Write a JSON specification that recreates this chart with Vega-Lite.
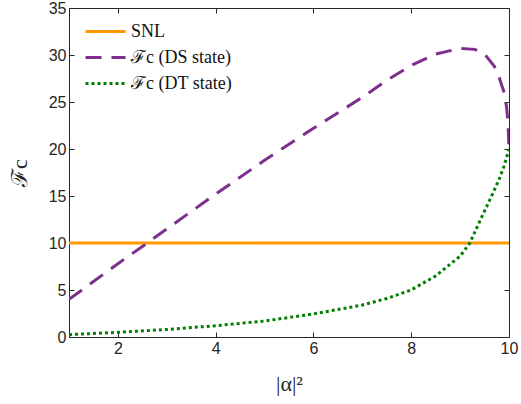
{
  "$schema": "https://vega.github.io/schema/vega-lite/v6.json",
  "width": 440,
  "height": 329,
  "autosize": {"type": "none"},
  "padding": {"left": 69, "top": 8, "right": 12, "bottom": 67},
  "background": "white",
  "config": {
    "view": {"stroke": "#262626", "strokeWidth": 1},
    "axis": {"grid": false, "domain": false, "labelFlush": false, "tickColor": "#262626", "tickSize": -5, "labelColor": "#262626", "labelFont": "Liberation Sans", "labelFontSize": 16, "titleFont": "Liberation Serif", "titleFontWeight": "normal", "titleColor": "#262626", "titleFontSize": 22}
  },
  "data": {"values": [
    {"s": "SNL", "x": 1, "y": 10},
    {"s": "SNL", "x": 10, "y": 10},
    {"s": "DS", "x": 1, "y": 4.0},
    {"s": "DS", "x": 1.5, "y": 5.9},
    {"s": "DS", "x": 2, "y": 7.8},
    {"s": "DS", "x": 2.6, "y": 10.0},
    {"s": "DS", "x": 3, "y": 11.5},
    {"s": "DS", "x": 4, "y": 15.2},
    {"s": "DS", "x": 5, "y": 18.8},
    {"s": "DS", "x": 6, "y": 22.2},
    {"s": "DS", "x": 7, "y": 25.5},
    {"s": "DS", "x": 7.5, "y": 27.3},
    {"s": "DS", "x": 8, "y": 28.9},
    {"s": "DS", "x": 8.5, "y": 30.1},
    {"s": "DS", "x": 9, "y": 30.7},
    {"s": "DS", "x": 9.3, "y": 30.6},
    {"s": "DS", "x": 9.5, "y": 30.1},
    {"s": "DS", "x": 9.7, "y": 28.8},
    {"s": "DS", "x": 9.8, "y": 27.6},
    {"s": "DS", "x": 9.9, "y": 26.0},
    {"s": "DS", "x": 9.95, "y": 24.5},
    {"s": "DS", "x": 9.98, "y": 22.8},
    {"s": "DS", "x": 10, "y": 20.0},
    {"s": "DT", "x": 1, "y": 0.25},
    {"s": "DT", "x": 2, "y": 0.5},
    {"s": "DT", "x": 3, "y": 0.8},
    {"s": "DT", "x": 4, "y": 1.2},
    {"s": "DT", "x": 5, "y": 1.7},
    {"s": "DT", "x": 6, "y": 2.45},
    {"s": "DT", "x": 7, "y": 3.4},
    {"s": "DT", "x": 7.5, "y": 4.1},
    {"s": "DT", "x": 8, "y": 5.0},
    {"s": "DT", "x": 8.5, "y": 6.5},
    {"s": "DT", "x": 9, "y": 8.6},
    {"s": "DT", "x": 9.2, "y": 10.0},
    {"s": "DT", "x": 9.4, "y": 12.3},
    {"s": "DT", "x": 9.6, "y": 14.5},
    {"s": "DT", "x": 9.8, "y": 16.8},
    {"s": "DT", "x": 9.9, "y": 18.2},
    {"s": "DT", "x": 10, "y": 20.0}
  ]},
  "resolve": {"axis": {"x": "independent", "y": "independent"}},
  "layer": [
    {
      "mark": {"type": "line", "strokeWidth": 3, "clip": true},
      "encoding": {
        "x": {"field": "x", "type": "quantitative", "scale": {"domain": [1, 10], "nice": false, "zero": false}, "axis": {"orient": "bottom", "values": [2, 4, 6, 8, 10], "title": "|α|²", "labelPadding": 8, "titleY": 36, "titleBaseline": "top"}},
        "y": {"field": "y", "type": "quantitative", "scale": {"domain": [0, 35], "nice": false}, "axis": {"orient": "left", "values": [0, 5, 10, 15, 20, 25, 30, 35], "title": "ℱc", "labelPadding": 8, "titleX": -38, "titleAngle": -90}},
        "color": {"field": "s", "type": "nominal", "scale": {"domain": ["SNL", "DS", "DT"], "range": ["#ff9a00", "#7e2f8e", "#007f00"]},
          "legend": {"orient": "none", "legendX": 25, "legendY": 12, "title": null, "symbolType": "M-2,0H2", "symbolStrokeWidth": 3, "symbolSize": 400, "labelFont": "Liberation Serif", "labelFontSize": 18, "labelColor": "#111", "rowPadding": 5, "labelOffset": 14,
            "labelExpr": "datum.value == 'SNL' ? 'SNL' : datum.value == 'DS' ? 'ℱc (DS state)' : 'ℱc (DT state)'"}},
        "strokeDash": {"field": "s", "type": "nominal", "scale": {"domain": ["SNL", "DS", "DT"], "range": [[1, 0], [16, 10], [3, 3]]},
          "legend": {"orient": "none", "legendX": 25, "legendY": 12, "title": null, "symbolType": "M-2,0H2", "symbolStrokeWidth": 3, "symbolSize": 400, "labelFont": "Liberation Serif", "labelFontSize": 18, "labelColor": "#111", "rowPadding": 5, "labelOffset": 14,
            "labelExpr": "datum.value == 'SNL' ? 'SNL' : datum.value == 'DS' ? 'ℱc (DS state)' : 'ℱc (DT state)'"}},
        "order": {"field": "x", "type": "quantitative"}
      }
    },
    {
      "mark": {"type": "rule", "opacity": 0},
      "encoding": {
        "x": {"field": "x", "type": "quantitative", "axis": {"orient": "top", "values": [2, 4, 6, 8, 10], "labels": false, "title": null}},
        "y": {"field": "y", "type": "quantitative", "axis": {"orient": "right", "values": [0, 5, 10, 15, 20, 25, 30, 35], "labels": false, "title": null}}
      }
    }
  ]
}
